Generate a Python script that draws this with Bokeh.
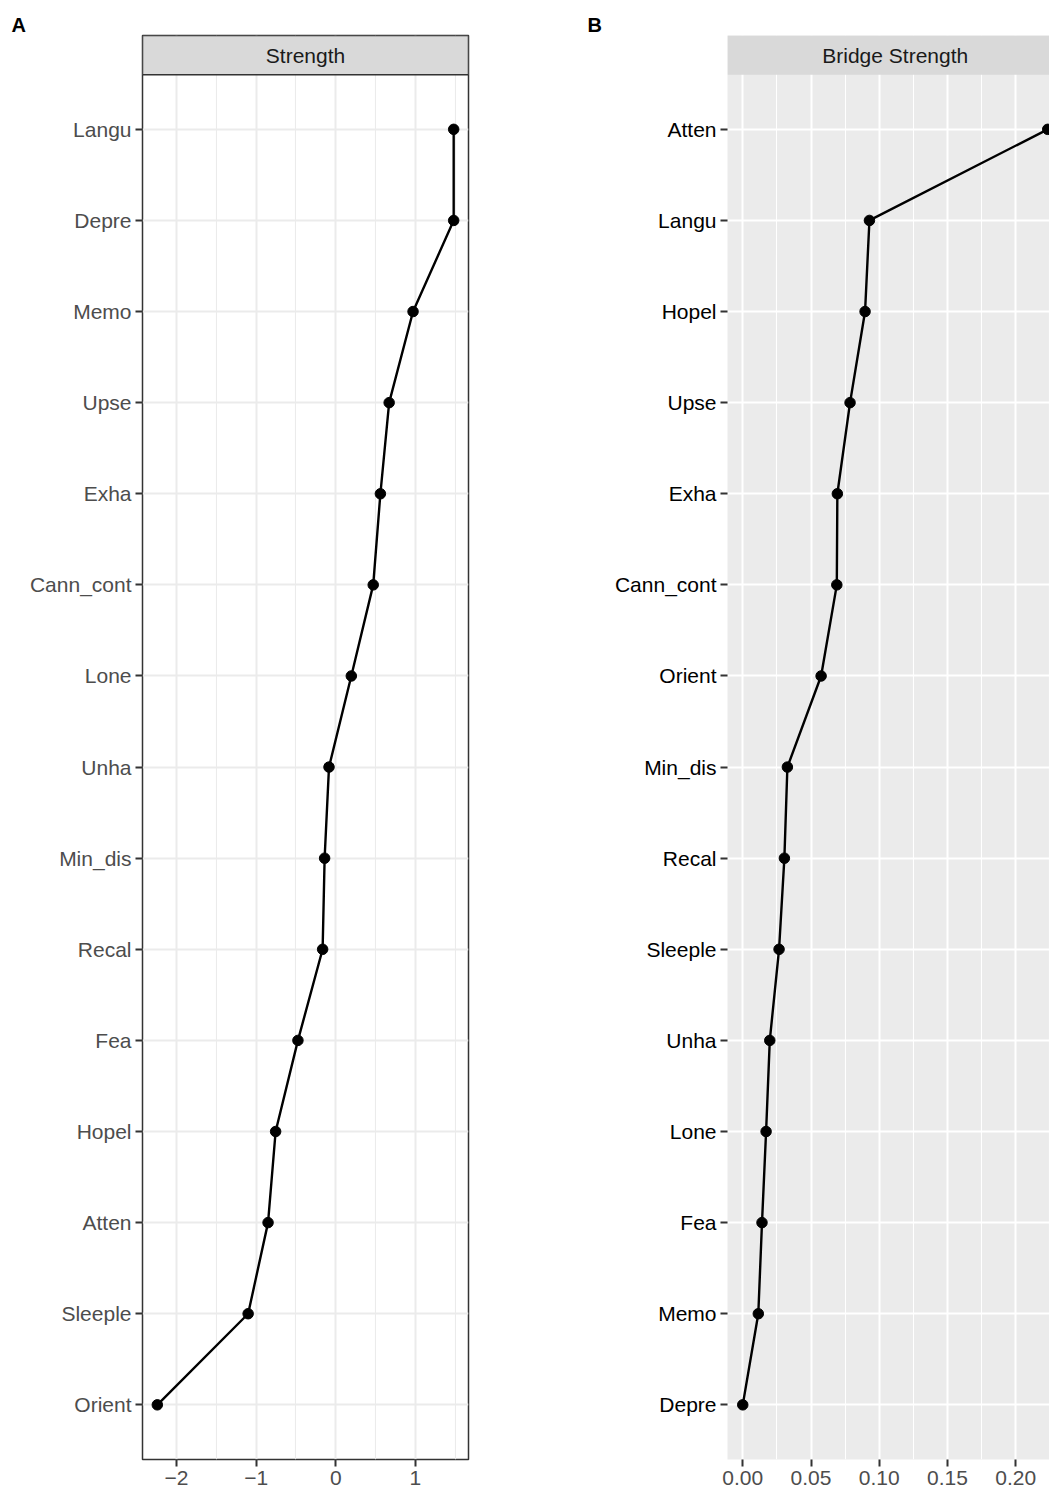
from bokeh.plotting import figure
from bokeh.models import FixedTicker, NumeralTickFormatter, Range1d
from bokeh.layouts import row
from bokeh.core.properties import value
from bokeh.embed import file_html
from bokeh.resources import INLINE

# ---------------- data ----------------
nodes_a = ["Langu", "Depre", "Memo", "Upse", "Exha", "Cann_cont", "Lone", "Unha",
           "Min_dis", "Recal", "Fea", "Hopel", "Atten", "Sleeple", "Orient"]
strength = [1.48, 1.48, 0.97, 0.67, 0.56, 0.47, 0.195, -0.085,
            -0.14, -0.165, -0.475, -0.755, -0.85, -1.10, -2.24]

nodes_b = ["Atten", "Langu", "Hopel", "Upse", "Exha", "Cann_cont", "Orient", "Min_dis",
           "Recal", "Sleeple", "Unha", "Lone", "Fea", "Memo", "Depre"]
bridge = [0.2234, 0.0928, 0.0896, 0.0786, 0.0693, 0.0689, 0.0574, 0.0327,
          0.0305, 0.0266, 0.0198, 0.0171, 0.0141, 0.0114, 0.0]

ticks_a = [-2, -1, 0, 1]
minor_a = [-1.5, -0.5, 0.5, 1.5]
tick_labels_a = ["\u22122", "\u22121", "0", "1"]

ticks_b = [0.0, 0.05, 0.10, 0.15, 0.20]
minor_b = [0.025, 0.075, 0.125, 0.175, 0.225]

FONT = "Liberation Sans"
H = 1488
TOP = 35
BOTTOM = 29
STRIP = 39


def panel(nodes, vals, title, letter, width, left, right, x_end, ticks, minor,
          bg, grid_color, border, ylab_color, strip_border, letter_x, tick_labels=None):
    n = len(nodes)
    ys = [n - i for i in range(n)]
    lo_v, hi_v = min(vals), max(vals)
    span = hi_v - lo_v
    x0 = lo_v - 0.05 * span
    x1 = hi_v + 0.05 * span if x_end is None else x_end
    frame_h = H - TOP - 35
    panel_h = frame_h - STRIP
    lo, hi = 0.4, n + 0.6
    unit = panel_h / (hi - lo)
    ytop = hi + STRIP / unit

    p = figure(width=width, height=H, x_range=Range1d(x0, x1), y_range=Range1d(lo, ytop),
               output_backend="svg", toolbar_location=None,
               min_border_left=left, min_border_right=right,
               min_border_top=TOP, min_border_bottom=BOTTOM)
    p.background_fill_color = bg
    p.border_fill_color = "white"
    if border:
        p.outline_line_color = "#333333"
        p.outline_line_width = 1.5
    else:
        p.outline_line_color = None

    # panel letter as title
    p.title.text = letter
    p.title.align = "left"
    p.title.offset = letter_x - left
    p.title.standoff = 0
    p.title.text_font = FONT
    p.title.text_font_style = "bold"
    p.title.text_font_size = "20px"
    p.title.text_color = "black"

    # axes
    p.yaxis.ticker = FixedTicker(ticks=ys)
    p.yaxis.major_label_overrides = {y: nm for y, nm in zip(ys, nodes)}
    p.xaxis.ticker = FixedTicker(ticks=ticks, minor_ticks=minor)
    if tick_labels is not None:
        p.xaxis.major_label_overrides = {t: l for t, l in zip(ticks, tick_labels)}
    else:
        p.xaxis.formatter = NumeralTickFormatter(format="0.00")
    for ax in (p.xaxis[0], p.yaxis[0]):
        ax.axis_line_color = None
        ax.major_tick_line_color = "#333333"
        ax.major_tick_line_width = 2
        ax.major_tick_out = 7
        ax.major_tick_in = 0
        ax.minor_tick_line_color = None
        ax.major_label_text_font = FONT
        ax.major_label_text_font_size = "21px"
        ax.major_label_standoff = 4
    p.xaxis.major_label_text_color = "#4D4D4D"
    p.yaxis.major_label_text_color = ylab_color

    # grids
    p.xgrid.grid_line_color = grid_color
    p.xgrid.grid_line_width = 2
    p.xgrid.minor_grid_line_color = grid_color
    p.xgrid.minor_grid_line_width = 1.1
    p.ygrid.grid_line_color = grid_color
    p.ygrid.grid_line_width = 2

    # strip header
    p.quad(left=x0, right=x1, bottom=hi, top=ytop, fill_color="#D9D9D9",
           line_color=strip_border, line_width=1.5)
    p.text(x=[(lo_v + hi_v) / 2], y=[(hi + ytop) / 2], text=[title],
           text_align="center", text_baseline="middle",
           text_font=value(FONT), text_font_size="21px", text_color="#1A1A1A")

    # data
    p.line(vals, ys, line_color="black", line_width=2.4)
    p.scatter(vals, ys, size=10.5, color="black")
    return p


pa = panel(nodes_a, strength, "Strength", "A", 579, 142, 111, None, ticks_a, minor_a,
           "white", "#EBEBEB", True, "#4D4D4D", "#333333", 11, tick_labels_a)
pb = panel(nodes_b, bridge, "Bridge Strength", "B", 470, 148, 0, 0.2247, ticks_b, minor_b,
           "#EBEBEB", "white", False, "black", None, 8)

layout = row(pa, pb)
open("out.html", "w").write(file_html(layout, INLINE))
